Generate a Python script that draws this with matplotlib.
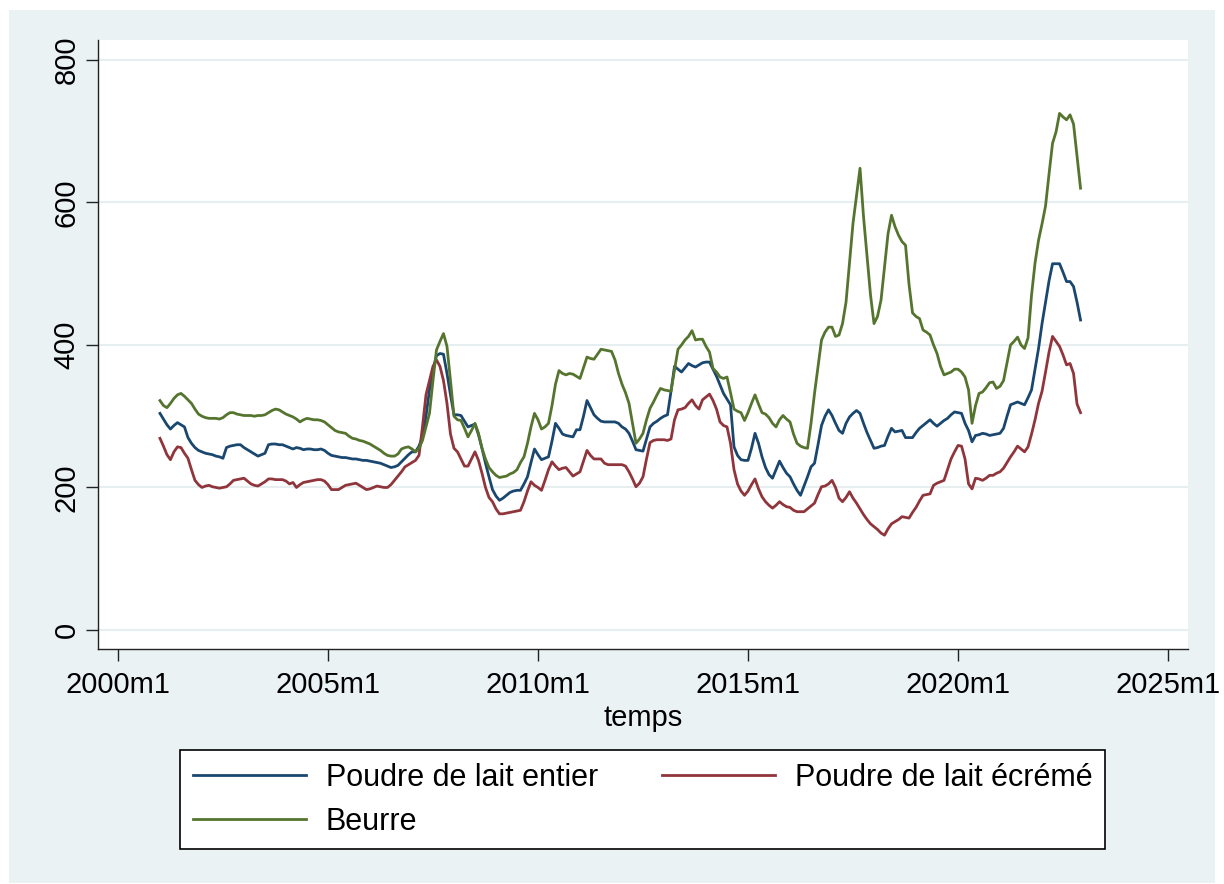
import numpy as np
import matplotlib
matplotlib.use('Agg')
import matplotlib.pyplot as plt
from matplotlib.patches import Rectangle

plt.rcParams['font.family'] = ['Liberation Sans', 'DejaVu Sans']

# monthly series, 2001m1 .. 2022m12 (Stata %tm: months since 1960m1)
start_month = 492

entier = [
    304, 296, 288, 282, 287, 291, 288, 285, 270, 262, 256, 252,   # 2001
    250, 248, 247, 246, 244, 243, 241, 256, 258, 259, 260, 260,   # 2002
    256, 253, 250, 247, 244, 246, 248, 260, 261, 261, 260, 260,   # 2003
    258, 256, 254, 256, 255, 253, 254, 254, 253, 253, 254, 252,   # 2004
    248, 245, 244, 243, 242, 242, 241, 240, 240, 239, 238, 238,   # 2005
    237, 236, 235, 234, 232, 230, 228, 229, 231, 236, 241, 246,   # 2006
    250, 250, 258, 271, 300, 337, 365, 385, 388, 387, 360, 330,   # 2007
    302, 302, 301, 293, 285, 287, 289, 274, 255, 234, 215, 197,   # 2008
    188, 182, 185, 189, 193, 195, 196, 196, 205, 215, 235, 254,   # 2009
    246, 239, 241, 243, 265, 290, 283, 275, 273, 272, 271, 281,   # 2010
    281, 300, 322, 312, 302, 297, 293, 292, 292, 292, 292, 290,   # 2011
    285, 282, 276, 265, 253, 252, 251, 268, 285, 290, 293, 297,   # 2012
    300, 302, 335, 370, 366, 362, 368, 374, 371, 369, 372, 375,   # 2013
    376, 376, 366, 356, 344, 332, 324, 316, 257, 245, 239, 238,   # 2014
    238, 255, 276, 262, 243, 228, 218, 213, 225, 237, 228, 220,   # 2015
    215, 205, 196, 189, 202, 215, 229, 234, 260, 287, 300, 309,   # 2016
    301, 290, 280, 276, 290, 299, 304, 308, 304, 290, 277, 266,   # 2017
    255, 256, 258, 259, 272, 283, 278, 279, 280, 270, 270, 270,   # 2018
    277, 283, 287, 291, 295, 290, 286, 290, 294, 297, 302, 306,   # 2019
    305, 304, 290, 280, 264, 273, 274, 276, 275, 273, 274, 275,   # 2020
    276, 283, 300, 316, 318, 320, 318, 316, 326, 337, 366, 395,   # 2021
    430, 460, 490, 514, 514, 514, 502, 489, 489, 482, 460, 435,   # 2022
]

ecreme = [
    269, 258, 246, 239, 250, 257, 256, 248, 241, 225, 210, 204,
    200, 202, 203, 201, 200, 199, 200, 201, 205, 210, 211, 212,
    213, 209, 205, 203, 202, 205, 208, 212, 212, 211, 211, 211,
    209, 205, 207, 200, 204, 207, 208, 209, 210, 211, 211, 209,
    204, 197, 197, 197, 200, 203, 204, 205, 206, 203, 200, 197,
    198, 200, 202, 201, 200, 200, 204, 210, 216, 222, 229, 232,
    235, 238, 245, 285, 330, 350, 370, 379, 370, 350, 318, 275,
    255, 250, 240, 230, 230, 240, 250, 238, 220, 200, 186, 180,
    170, 163, 163, 164, 165, 166, 167, 168, 180, 195, 208, 203,
    200, 196, 210, 225, 236, 230, 225, 227, 228, 222, 216, 219,
    222, 237, 252, 245, 240, 240, 240, 234, 232, 232, 232, 232,
    232, 230, 222, 212, 201, 206, 215, 240, 263, 266, 267, 267,
    267, 266, 268, 295, 309, 310, 312, 318, 323, 315, 310, 323,
    327, 331, 322, 310, 292, 287, 285, 262, 225, 205, 195, 189,
    195, 204, 212, 198, 187, 180, 175, 171, 175, 180, 176, 173,
    172, 168, 166, 166, 166, 170, 174, 178, 190, 201, 202, 205,
    210, 200, 185, 180, 186, 194, 185, 178, 170, 162, 155, 149,
    145, 141, 136, 133, 142, 149, 152, 155, 159, 158, 157, 165,
    172, 181, 189, 190, 191, 203, 206, 208, 210, 225, 240, 250,
    259, 258, 240, 205, 198, 213, 212, 210, 213, 217, 217, 220,
    222, 227, 235, 243, 250, 258, 254, 250, 257, 275, 295, 318,
    335, 362, 390, 412, 405, 398, 386, 372, 374, 360, 317, 305,
]

beurre = [
    322, 315, 312, 318, 325, 330, 332, 328, 323, 318, 310, 303,
    300, 298, 297, 297, 297, 296, 298, 302, 305, 305, 303, 302,
    301, 301, 301, 300, 301, 301, 302, 305, 308, 310, 309, 306,
    303, 301, 299, 296, 292, 295, 297, 296, 295, 295, 294, 292,
    288, 284, 280, 278, 277, 276, 272, 269, 268, 266, 265, 263,
    261, 258, 255, 252, 248, 245, 244, 244, 247, 254, 256, 257,
    254, 250, 255, 266, 285, 304, 350, 393, 405, 416, 398, 350,
    300, 295, 294, 283, 271, 280, 290, 276, 255, 240, 228, 222,
    217, 214, 215, 216, 219, 221, 225, 235, 243, 262, 285, 304,
    295, 282, 285, 290, 315, 345, 364, 360, 358, 360, 359, 356,
    353, 368, 383, 381, 380, 387, 394, 393, 392, 391, 379, 360,
    345, 333, 318, 290, 262, 268, 276, 295, 311, 320, 330, 339,
    337, 336, 335, 365, 394, 400, 407, 412, 420, 407, 408, 408,
    398, 390, 367, 362, 355, 353, 355, 333, 310, 307, 305, 294,
    305, 318, 330, 317, 305, 303, 298, 290, 285, 295, 301, 296,
    292, 275, 262, 258, 256, 255, 290, 332, 370, 407, 418, 425,
    425, 412, 414, 430, 460, 515, 571, 610, 648, 580, 525, 470,
    430, 440, 463, 510, 556, 582, 566, 554, 545, 540, 485, 445,
    440, 437, 421, 418, 414, 400, 388, 370, 358, 360, 362, 366,
    366, 362, 355, 337, 290, 315, 332, 334, 340, 347, 348, 339,
    342, 350, 375, 400, 405, 411, 400, 395, 410, 470, 515, 547,
    570, 595, 640, 683, 699, 725, 720, 716, 723, 710, 665, 620,
]

labels = ['Poudre de lait entier', 'Poudre de lait écrémé', 'Beurre']
colors = ['#1A476F', '#90353B', '#55752F']

xtick_pos = [480, 540, 600, 660, 720, 780]
xtick_labels = ['2000m1', '2005m1', '2010m1', '2015m1', '2020m1', '2025m1']
ytick_pos = [0, 200, 400, 600, 800]

bg = '#EAF2F3'

fig = plt.figure(figsize=(12.24, 8.84), dpi=100, facecolor='white')
fig.add_artist(Rectangle((9 / 1224, 1 / 884), 1206 / 1224, 873 / 884,
                         transform=fig.transFigure, facecolor=bg,
                         edgecolor='none', zorder=-10))

ax = fig.add_axes([98 / 1224, 1 - 649 / 884, 1090 / 1224, 609 / 884])
ax.set_facecolor('white')

months = np.arange(len(entier)) + start_month
lines = []
for series, lab, col in zip([entier, ecreme, beurre], labels, colors):
    ln, = ax.plot(months, series, color=col, lw=2.0, label=lab)
    lines.append(ln)

ax.set_xlim(474.3, 785.7)
ax.set_ylim(-26.7, 828)

ax.set_yticks(ytick_pos)
ax.set_yticklabels([str(v) for v in ytick_pos], rotation=90, va='center')
ax.set_xticks(xtick_pos)
ax.set_xticklabels(xtick_labels)
ax.tick_params(axis='both', labelsize=21, length=8.5, width=1,
               color='#222222', direction='out')
ax.tick_params(axis='y', pad=4)
ax.tick_params(axis='x', pad=7)

ax.grid(axis='y', color='#E6EEF0', lw=1.5)
ax.grid(axis='x', visible=False)
ax.set_axisbelow(True)

for side in ['top', 'right']:
    ax.spines[side].set_visible(False)
for side in ['left', 'bottom']:
    ax.spines[side].set_color('#222222')
    ax.spines[side].set_linewidth(1)

ax.set_xlabel('temps', fontsize=21, labelpad=4)

# legend filled column by column: put Beurre under the whole-milk entry
order = [0, 2, 1]
leg = ax.legend([lines[i] for i in order], [labels[i] for i in order],
                loc='upper left', ncol=2, mode='expand',
                bbox_to_anchor=(180 / 1224, 0.0, 925 / 1224, 1 - 750 / 884),
                bbox_transform=fig.transFigure, borderaxespad=0,
                fontsize=22, handlelength=3.7, handletextpad=0.65,
                borderpad=0.42, labelspacing=0.45, fancybox=False,
                framealpha=1, edgecolor='black')
leg.get_frame().set_linewidth(1.2)
for ln in leg.get_lines():
    ln.set_linewidth(2.0)

fig.savefig('out.png', dpi=100, facecolor='white')
